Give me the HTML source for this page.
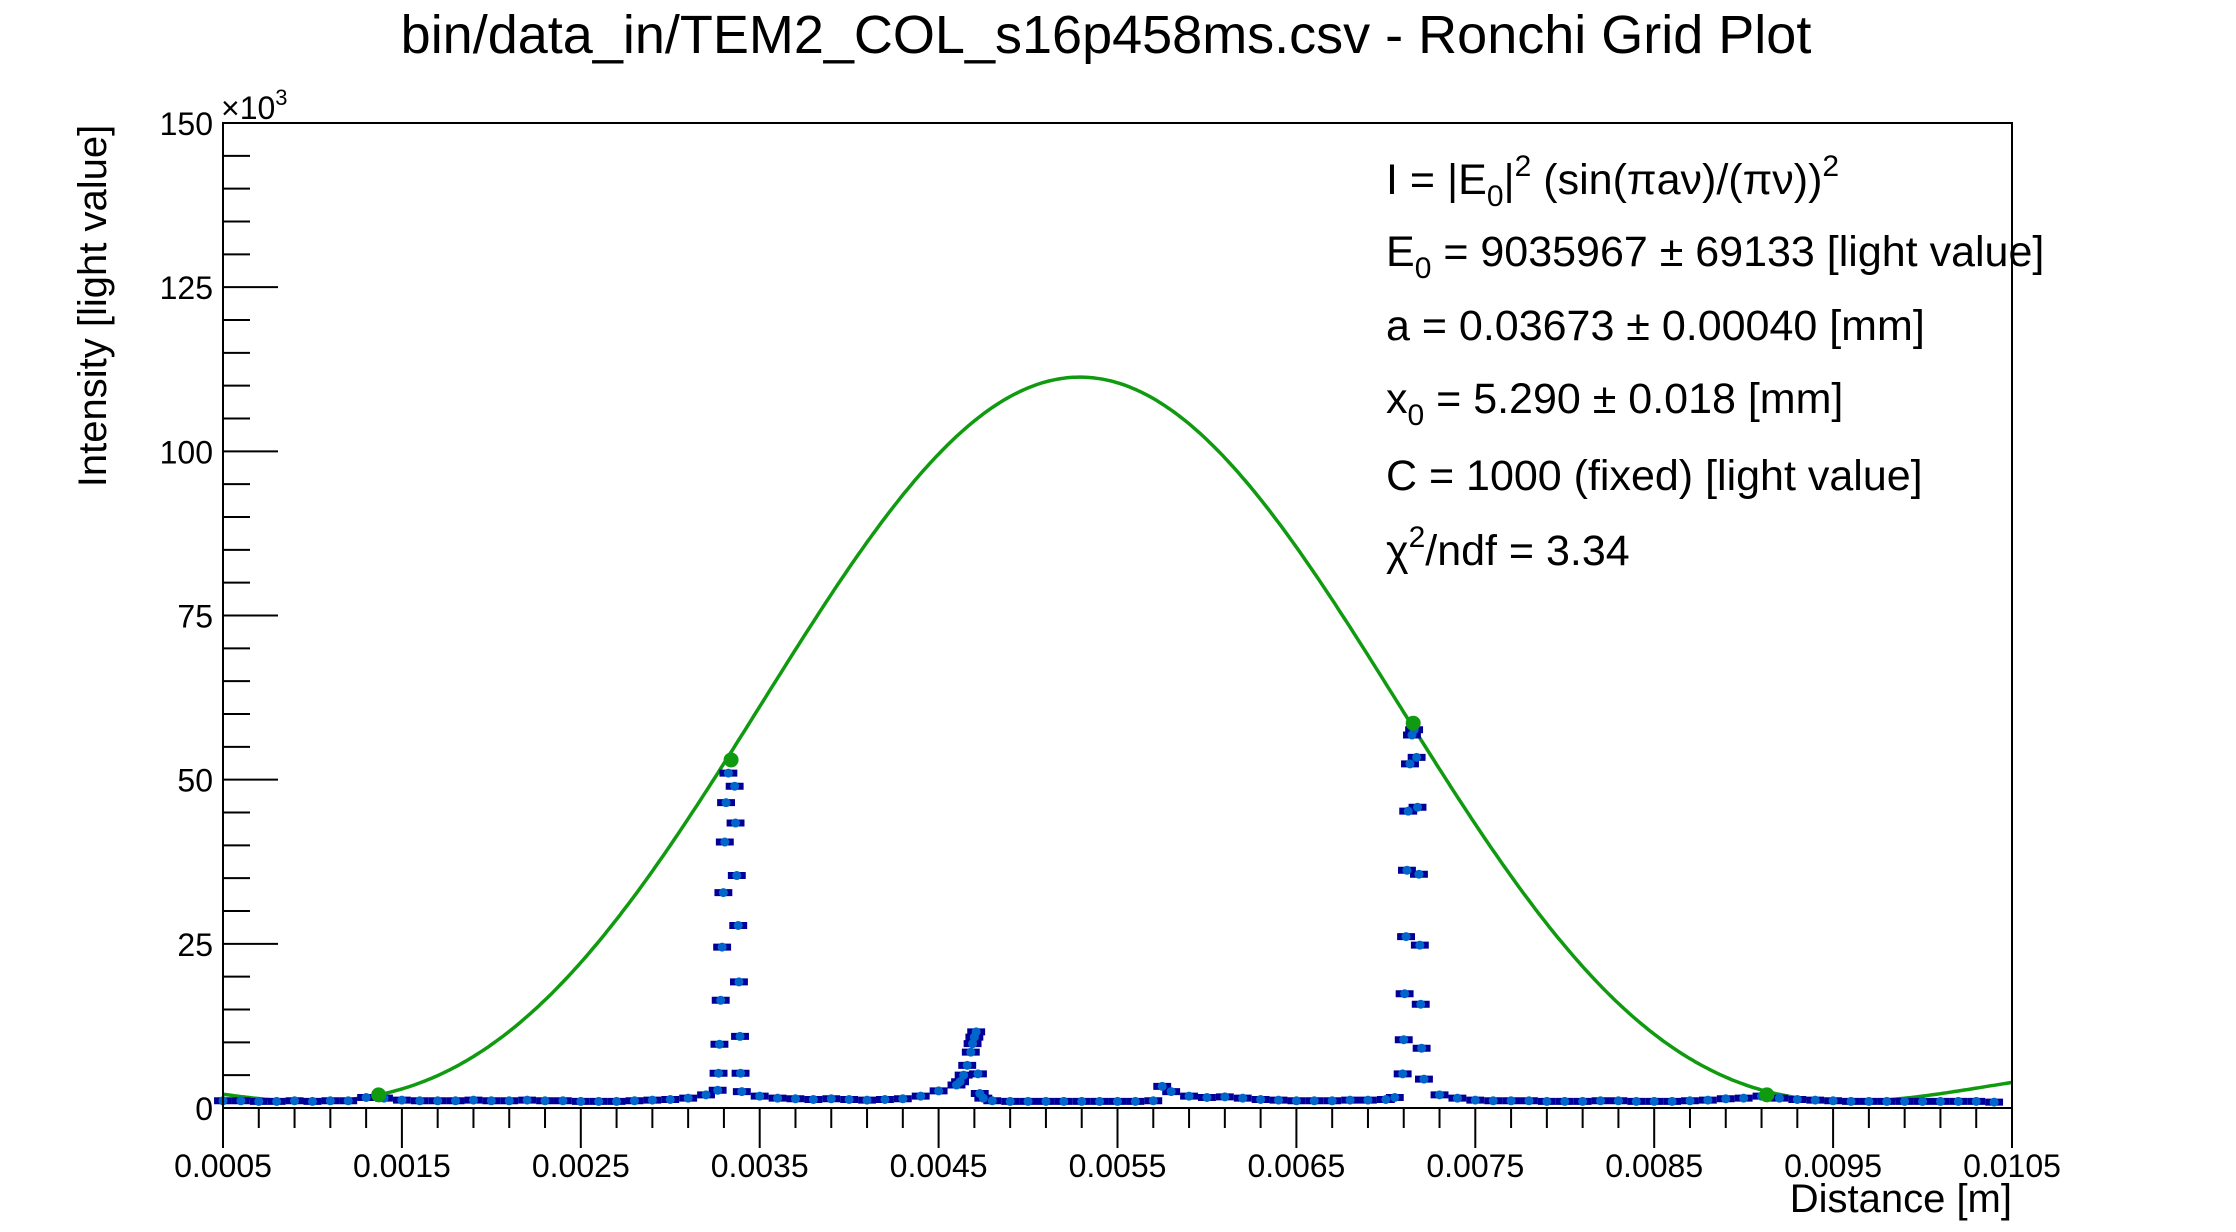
<!DOCTYPE html>
<html><head><meta charset="utf-8">
<style>
html,body{margin:0;padding:0;background:#fff;}
svg{display:block;font-family:"Liberation Sans",Arial,sans-serif;}
</style></head>
<body>
<svg id="chart" width="2236" height="1232" viewBox="0 0 2236 1232" xmlns="http://www.w3.org/2000/svg">
<rect x="0" y="0" width="2236" height="1232" fill="#fff"/>
<text x="1106" y="53" font-size="54" text-anchor="middle">bin/data_in/TEM2_COL_s16p458ms.csv - Ronchi Grid Plot</text>
<g id="axes"></g>
<g id="fitcurve"></g>
<g id="points"></g>
<g id="fitmarkers"></g>
<rect x="223" y="123" width="1789" height="985" fill="none" stroke="#000" stroke-width="2"/>
<text x="213" y="135" font-size="32" text-anchor="end">150</text>
<text x="221" y="119" font-size="32">×10<tspan font-size="22" dy="-14">3</tspan></text>
<text transform="translate(106,306) rotate(-90)" font-size="40" text-anchor="middle">Intensity [light value]</text>
<text x="2012" y="1212" font-size="40" text-anchor="end">Distance [m]</text>
<g font-size="43">
<text x="1386" y="194">I = |E<tspan font-size="30" dy="12">0</tspan><tspan dy="-12">|</tspan><tspan font-size="30" dy="-18">2</tspan><tspan dy="18"> (sin(πaν)/(πν))</tspan><tspan font-size="30" dy="-18">2</tspan></text>
<text x="1386" y="266">E<tspan font-size="30" dy="12">0</tspan><tspan dy="-12"> = 9035967 ± 69133 [light value]</tspan></text>
<text x="1386" y="340">a = 0.03673 ± 0.00040 [mm]</text>
<text x="1386" y="413">x<tspan font-size="30" dy="12">0</tspan><tspan dy="-12"> = 5.290 ± 0.018 [mm]</tspan></text>
<text x="1386" y="490">C = 1000 (fixed) [light value]</text>
<text x="1386" y="565">χ<tspan font-size="30" dy="-18">2</tspan><tspan dy="18">/ndf = 3.34</tspan></text>
</g>
</svg>
<script>
// ---- data (x in metres, y in thousands of light value) ----
const dataX = [
0.0005,0.0006,0.0007,0.0008,0.0009,0.0010,0.0011,0.0012,0.0013,0.0014,0.0015,0.0016,0.0017,0.0018,0.0019,0.0020,0.0021,0.0022,0.0023,0.0024,0.0025,0.0026,0.0027,0.0028,0.0029,0.0030,0.0031,0.0032,
0.003265,0.00327,0.003275,0.003282,0.00329,0.003297,0.003305,0.003312,0.003325,
0.00336,0.003365,0.003372,0.00338,0.003384,0.00339,0.003393,0.0034,
0.0035,0.0036,0.0037,0.0038,0.0039,0.0040,0.0041,0.0042,0.0043,0.0044,0.0045,0.0046,0.00462,0.00464,0.00466,0.00468,0.00469,0.0047,0.00471,0.00472,0.00473,0.00475,0.0048,
0.0049,0.0050,0.0051,0.0052,0.0053,0.0054,0.0055,0.0056,0.0057,0.00575,0.0058,0.0059,0.0060,0.0061,0.0062,0.0063,0.0064,0.0065,0.0066,0.0067,0.0068,0.0069,0.0070,0.00705,
0.007094,0.0071,0.007105,0.007113,0.007118,0.007125,0.007135,0.007146,
0.007158,0.007172,0.007177,0.007185,0.00719,0.007195,0.0072,0.007213,
0.0073,0.0074,0.0075,0.0076,0.0077,0.0078,0.0079,0.0080,0.0081,0.0082,0.0083,0.0084,0.0085,0.0086,0.0087,0.0088,0.0089,0.0090,0.0091,0.0092,0.0093,0.0094,0.0095,0.0096,0.0097,0.0098,0.0099,0.0100,0.0101,0.0102,0.0103,0.0104];
const dataY = [
1.1,1.1,1.0,1.0,1.1,1.0,1.1,1.1,1.6,1.5,1.2,1.1,1.1,1.1,1.2,1.1,1.1,1.2,1.1,1.1,1.0,1.0,1.0,1.1,1.2,1.3,1.5,2.0,
2.7,5.3,9.7,16.4,24.5,32.8,40.5,46.5,51.0,
49.0,43.4,35.4,27.8,19.2,10.9,5.3,2.5,
1.8,1.5,1.4,1.3,1.4,1.3,1.2,1.3,1.4,1.8,2.6,3.5,4.0,5.0,6.5,8.5,9.8,10.8,11.6,5.2,2.2,1.5,1.1,
1.0,1.0,1.0,1.0,1.0,1.0,1.0,1.0,1.1,3.3,2.5,1.8,1.6,1.7,1.5,1.3,1.2,1.1,1.1,1.1,1.2,1.2,1.3,1.6,
5.2,10.4,17.4,26.1,36.2,45.2,52.4,56.8,
57.6,53.4,45.8,35.6,24.8,15.8,9.1,4.4,
2.0,1.5,1.2,1.1,1.1,1.1,1.0,1.0,1.0,1.1,1.1,1.0,1.0,1.0,1.1,1.2,1.4,1.5,1.8,1.5,1.3,1.2,1.1,1.0,1.0,1.0,1.0,1.0,1.0,1.0,1.0,0.9];
const fitMarkerX = [0.00137, 0.00334, 0.007153, 0.00913];
const fitMarkerY = [2.0, 53.0, 58.6, 2.0];
// fit parameters: peak (k), centre (m), half-width to first zero (m), constant (k)
const fitPeak = [110.3];
const fitCentre = [0.00529];
const fitWidth = [0.0043];
const fitConst = [1.0];
const xTickLabels = ["0.0005","0.0015","0.0025","0.0035","0.0045","0.0055","0.0065","0.0075","0.0085","0.0095","0.0105"];
const yTickLabels = ["0","25","50","75","100","125"];

// ---- axes ----
const X0=223, X1=2012, Y0=1108, Y1=123;
const xMin=0.0005, xMax=0.0105, yMin=0, yMax=150;
const sx = v => X0 + (v - xMin) / (xMax - xMin) * (X1 - X0);
const sy = v => Y0 - (v - yMin) / (yMax - yMin) * (Y0 - Y1);
const NS = "http://www.w3.org/2000/svg";
function mk(tag, attrs, parent){const e=document.createElementNS(NS,tag);for(const k in attrs)e.setAttribute(k,attrs[k]);parent.appendChild(e);return e;}

const axes = document.getElementById('axes');
for(let v=0; v<yMax; v+=5){
  const major = v % 25 === 0;
  const t = mk('line',{x1:X0,x2:X0+(major?55:27),y1:sy(v),y2:sy(v),stroke:'#000','stroke-width':2},axes);
  
  
}
yTickLabels.forEach(s=>{
  const t = mk('text',{x:213,y:sy(parseFloat(s))+12,'font-size':32,'text-anchor':'end'},axes);
  t.textContent = s;
  
  
});
for(let i=0;i<=50;i++){
  const v = xMin + i*0.0002;
  const major = i % 5 === 0;
  const t = mk('line',{x1:sx(v),x2:sx(v),y1:Y0,y2:Y0+(major?40:20),stroke:'#000','stroke-width':2},axes);
  
  
}
xTickLabels.forEach(s=>{
  const t = mk('text',{x:sx(parseFloat(s)),y:1177,'font-size':32,'text-anchor':'middle'},axes);
  t.textContent = s;
  
  
});

// ---- data points ----
const pts = document.getElementById('points');
const xerr = 0.00005;
dataX.forEach((x,i)=>{
  const b = mk('line',{x1:sx(x-xerr),x2:sx(x+xerr),y1:sy(dataY[i]),y2:sy(dataY[i]),stroke:'#000099','stroke-width':7},pts);
  
  
});
dataX.forEach((x,i)=>{
  const c = mk('circle',{cx:sx(x),cy:sy(dataY[i]),r:4.5,fill:'#0066cc'},pts);
  
  
});

// ---- fit curve ----
const fitFn = x => {
  const u = Math.PI * (x - fitCentre[0]) / fitWidth[0];
  const s = Math.abs(u) < 1e-9 ? 1 : Math.sin(u)/u;
  return fitConst[0] + fitPeak[0]*s*s;
};
let d = '';
for(let i=0;i<=600;i++){
  const x = xMin + (xMax-xMin)*i/600;
  d += (i?'L':'M') + sx(x).toFixed(1) + ',' + sy(fitFn(x)).toFixed(1);
}
const fc = mk('path',{d:d,fill:'none',stroke:'#109a10','stroke-width':3.5},document.getElementById('fitcurve'));


const fm = document.getElementById('fitmarkers');
fitMarkerX.forEach((x,i)=>{
  const c = mk('circle',{cx:sx(x),cy:sy(fitMarkerY[i]),r:7.5,fill:'#109a10'},fm);
  
  
});
</script>
</body></html>
